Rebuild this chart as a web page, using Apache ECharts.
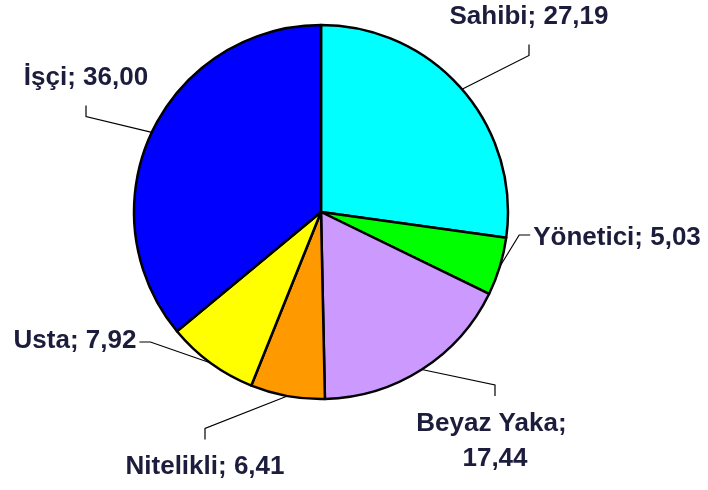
<!DOCTYPE html>
<html lang="tr">
<head>
    <meta charset="UTF-8">
    <title>Pie</title>
    <script src="https://cdn.jsdelivr.net/npm/echarts@6/dist/echarts.min.js"></script>
</head>
<style>
    html, body { margin: 0; padding: 0; background: #fff; }
    #container { width: 708px; height: 490px; }
</style>
<body>
<div id="container"></div>
<script>
    var chart = echarts.init(document.getElementById('container'));

    // data, clockwise from 12 o'clock
    var names = ['Sahibi', 'Yönetici', 'Beyaz Yaka', 'Nitelikli', 'Usta', 'İşçi'];
    var values = [27.19, 5.03, 17.44, 6.41, 7.92, 36.00];
    var colors = ['#00ffff', '#00ff00', '#cc99ff', '#ff9900', '#ffff00', '#0000ff'];

    // label placement (centre of text) and which side the leader line meets
    var labelPos = [[529, 17], [617, 238], [495, 441], [205, 467], [75, 341], [86, 78]];
    var labelSide = ['bottom', 'left', 'top', 'top', 'right', 'bottom'];

    var cx = 321, cy = 212, r = 187;
    var total = values.reduce(function (a, b) { return a + b; }, 0);

    function edgePoint(i)
    {
        var before = 0;
        for (var k = 0; k < i; k++) before += values[k];
        var mid = (before + values[i] / 2) / total * Math.PI * 2;
        return [cx + r * Math.sin(mid), cy - r * Math.cos(mid)];
    }

    var data = names.map(function (n, i) {
        var item = { name: n, value: values[i], itemStyle: { color: colors[i] } };
        if (n === 'Beyaz Yaka') item.label = { width: 170, overflow: 'break' };
        return item;
    });

    var option = {
        animation: false,
        series: [
            {
                type: 'pie',
                center: [cx, cy],
                radius: r,
                startAngle: 90,
                clockwise: true,
                avoidLabelOverlap: false,
                data: data,
                itemStyle: {
                    borderColor: '#000',
                    borderWidth: 2.5
                },
                label: {
                    show: true,
                    position: 'outside',
                    color: '#1c1c3c',
                    fontFamily: 'Arial, "Liberation Sans", sans-serif',
                    fontWeight: 'bold',
                    fontSize: 26,
                    lineHeight: 35,
                    align: 'center',
                    formatter: function (p) {
                        return p.name + '; ' + p.value.toFixed(2).replace('.', ',');
                    }
                },
                labelLine: {
                    show: true,
                    lineStyle: { color: '#000', width: 1.2 }
                },
                emphasis: { disabled: true },
                labelLayout: function (p) {
                    var i = p.dataIndex;
                    var w = p.labelRect.width, h = p.labelRect.height;
                    var x = labelPos[i][0], y = labelPos[i][1];
                    var p0 = edgePoint(i), p1, p2;
                    var gap = 10, arm = 11;
                    if (labelSide[i] === 'bottom') {
                        p2 = [x, y + h / 2 + gap];
                        p1 = [x, p2[1] + arm];
                    } else if (labelSide[i] === 'top') {
                        p2 = [x, y - h / 2 - gap];
                        p1 = [x, p2[1] - arm];
                    } else if (labelSide[i] === 'left') {
                        p2 = [x - w / 2 - 3, y - 3];
                        p1 = [p2[0] - arm, p2[1]];
                    } else {
                        p2 = [x + w / 2 + 3, y + 1];
                        p1 = [p2[0] + arm, p2[1]];
                    }
                    return {
                        x: x,
                        y: y,
                        align: 'center',
                        verticalAlign: 'middle',
                        hideOverlap: false,
                        labelLinePoints: [p0, p1, p2]
                    };
                }
            }
        ]
    };

    chart.setOption(option);
</script>
</body>
</html>
